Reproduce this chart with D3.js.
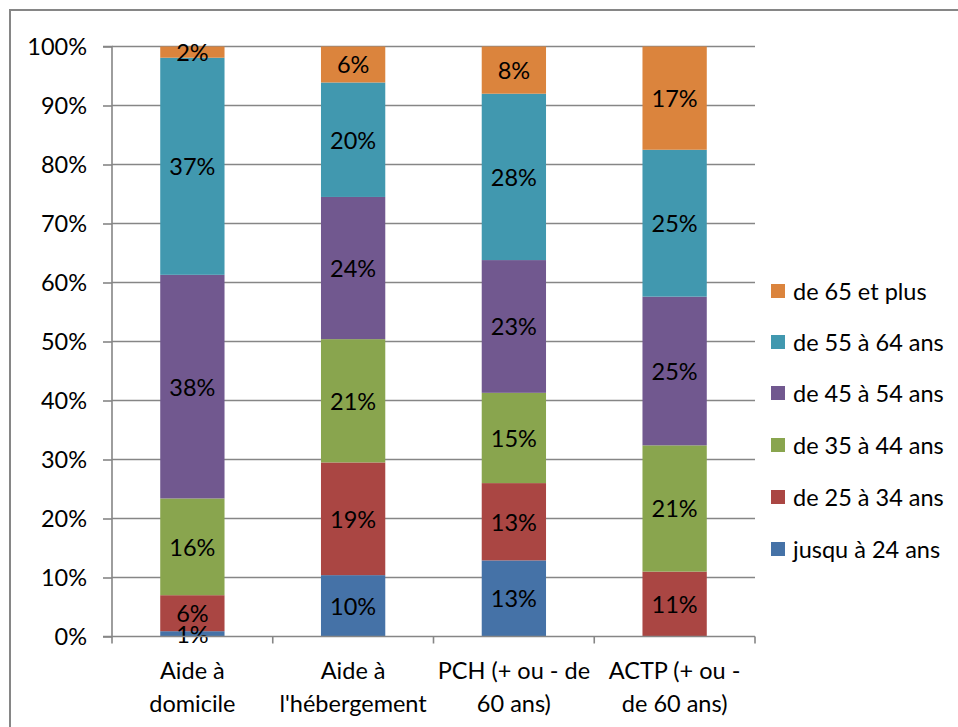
<!DOCTYPE html>
<html><head><meta charset="utf-8">
<script src="https://cdn.jsdelivr.net/npm/d3@7"></script>
<style>body{margin:0;background:#fff}svg{display:block}text{font-family:Lato,"Open Sans",sans-serif;fill:#000}</style>
</head><body>
<svg id="c" width="958" height="727"></svg>
<script>
const categories = [["Aide à","domicile"],["Aide à","l'hébergement"],["PCH (+ ou - de","60 ans)"],["ACTP (+ ou -","de 60 ans)"]];
const seriesNames = ["jusqu à 24 ans","de 25 à 34 ans","de 35 à 44 ans","de 45 à 54 ans","de 55 à 64 ans","de 65 et plus"];
const colors = ["#4572A7","#AA4643","#89A54E","#71588F","#4198AF","#DB843D"];
const s0 = [0.9, 10.4, 12.9, 0];
const s1 = [6.1, 19.1, 13.1, 11.0];
const s2 = [16.4, 20.9, 15.3, 21.4];
const s3 = [37.9, 24.1, 22.5, 25.2];
const s4 = [36.8, 19.4, 28.2, 24.9];
const s5 = [1.9, 6.1, 8.0, 17.5];
const labels0 = ["1%","10%","13%",""];
const labels1 = ["6%","19%","13%","11%"];
const labels2 = ["16%","21%","15%","21%"];
const labels3 = ["38%","24%","23%","25%"];
const labels4 = ["37%","20%","28%","25%"];
const labels5 = ["2%","6%","8%","17%"];
const yTicks = [0,10,20,30,40,50,60,70,80,90,100];

const series = [s0,s1,s2,s3,s4,s5];
const labels = [labels0,labels1,labels2,labels3,labels4,labels5];
const svg = d3.select("#c");
const fs = 23.5;
const grey = "#868686";

// outer border
svg.append("rect").attr("x",10).attr("y",10).attr("width",1000).attr("height",800)
  .attr("fill","none").attr("stroke",grey).attr("stroke-width",2);

const x0 = 112, x1 = 755, yb = 636.5, yt = 46.5;
const x = d3.scaleBand().domain(d3.range(categories.length)).range([x0,x1]).paddingInner(0.6).paddingOuter(0.3);
const xb = d3.scaleBand().domain(d3.range(categories.length)).range([x0,x1]);
const y = d3.scaleLinear().domain([0,100]).range([yb,yt]);

// gridlines
svg.append("g").selectAll("line").data(yTicks.filter(t=>t>0)).join("line")
  .attr("x1",x0).attr("x2",x1).attr("y1",d=>y(d)).attr("y2",d=>y(d))
  .attr("stroke",grey).attr("stroke-width",1.6);

// stacked data
const rows = categories.map((c,i)=>{const o={i}; series.forEach((s,k)=>o[k]=s[i]); return o;});
const stack = d3.stack().keys(d3.range(series.length))(rows);

const g = svg.append("g");
stack.forEach((layer,k)=>{
  g.selectAll(null).data(layer).join("rect")
    .attr("x",d=>x(d.data.i)).attr("width",x.bandwidth())
    .attr("y",d=>y(d[1])).attr("height",d=>y(d[0])-y(d[1]))
    .attr("fill",colors[k]);
});
stack.forEach((layer,k)=>{
  g.selectAll(null).data(layer).join("text")
    .attr("x",d=>x(d.data.i)+x.bandwidth()/2)
    .attr("y",d=>(y(d[0])+y(d[1]))/2)
    .attr("text-anchor","middle").attr("dominant-baseline","central")
    .attr("font-size",fs)
    .text(d=>labels[k][d.data.i]);
});

// y axis
const ya = d3.axisLeft(y).tickValues(yTicks).tickFormat(d=>d+"%").tickSize(9).tickPadding(16);
const yg = svg.append("g").attr("transform",`translate(${x0},0)`).call(ya);
yg.select(".domain").attr("stroke",grey).attr("stroke-width",1.6).attr("d",`M-9,${yb}H0V${yt}H-9`);
yg.selectAll(".tick line").attr("stroke",grey).attr("stroke-width",1.6);
yg.selectAll(".tick text").attr("font-size",fs).attr("font-family","Lato").attr("fill","#000");

// x axis
svg.append("line").attr("x1",x0).attr("x2",x1).attr("y1",yb).attr("y2",yb).attr("stroke",grey).attr("stroke-width",1.6);
const bounds = xb.domain().map(d=>xb(d)).concat([x1]);
svg.append("g").selectAll("line").data(bounds).join("line")
  .attr("x1",d=>d).attr("x2",d=>d).attr("y1",yb).attr("y2",yb+7).attr("stroke",grey).attr("stroke-width",1.6);
const xl = svg.append("g").selectAll("text").data(categories).join("text")
  .attr("x",(d,i)=>xb(i)+xb.bandwidth()/2).attr("y",679).attr("text-anchor","middle").attr("font-size",fs);
xl.selectAll("tspan").data(d=>d).join("tspan")
  .attr("x",function(){return this.parentNode.getAttribute("x");})
  .attr("dy",(d,j)=>j===0?0:33).text(d=>d);

// legend
const legY = [549,497,445,393,342,291];
const lg = svg.append("g").selectAll("g").data(seriesNames).join("g")
  .attr("transform",(d,i)=>`translate(771,${legY[i]})`);
lg.append("rect").attr("x",0).attr("y",-7).attr("width",14).attr("height",14).attr("fill",(d,i)=>colors[i]);
lg.append("text").attr("x",22).attr("y",0).attr("dominant-baseline","central").attr("font-size",fs).text(d=>d);
</script>
</body></html>
